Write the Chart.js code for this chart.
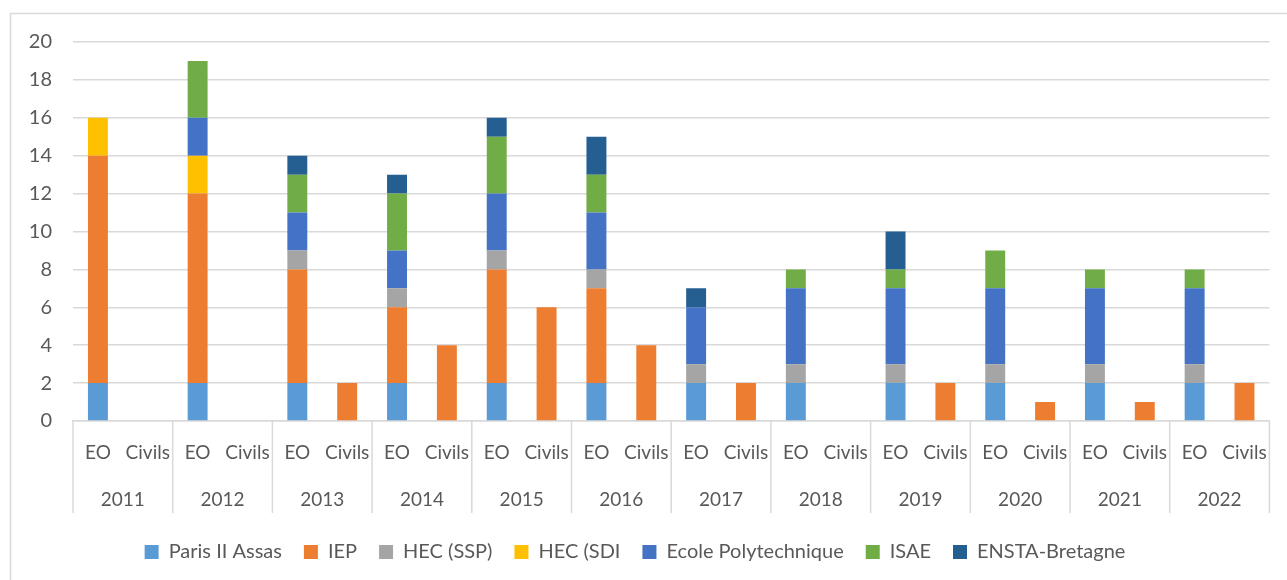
<!DOCTYPE html>
<html>
<head>
<meta charset="utf-8">
<script src="https://cdn.jsdelivr.net/npm/chart.js@4.4.1/dist/chart.umd.min.js"></script>
<style>
  html,body{margin:0;padding:0;background:#fff;}
  #wrap{position:relative;width:1287px;height:580px;}
</style>
</head>
<body>
<div id="wrap"><canvas id="c" width="1287" height="580"></canvas></div>
<script>
// données (EO / Civils par année)
const years=['2011','2012','2013','2014','2015','2016','2017','2018','2019','2020','2021','2022'];
const groups=['EO','Civils'];
const paris =[2,0, 2,0, 2,0, 2,0, 2,0, 2,0, 2,0, 2,0, 2,0, 2,0, 2,0, 2,0];
const iep   =[12,0, 10,0, 6,2, 4,4, 6,6, 5,4, 0,2, 0,0, 0,2, 0,1, 0,1, 0,2];
const hecSsp=[0,0, 0,0, 1,0, 1,0, 1,0, 1,0, 1,0, 1,0, 1,0, 1,0, 1,0, 1,0];
const hecSdi=[2,0, 2,0, 0,0, 0,0, 0,0, 0,0, 0,0, 0,0, 0,0, 0,0, 0,0, 0,0];
const poly  =[0,0, 2,0, 2,0, 2,0, 3,0, 3,0, 3,0, 4,0, 4,0, 4,0, 4,0, 4,0];
const isae  =[0,0, 3,0, 2,0, 3,0, 3,0, 2,0, 0,0, 1,0, 1,0, 2,0, 1,0, 1,0];
const ensta =[0,0, 0,0, 1,0, 1,0, 1,0, 2,0, 1,0, 0,0, 2,0, 0,0, 0,0, 0,0];
const yTicks=[0,2,4,6,8,10,12,14,16,18,20];

const labels=[];
years.forEach(()=>groups.forEach(g=>labels.push(g)));

const TXT='#595959', GRID='#d9d9d9', FONT='Lato, "Liberation Sans", sans-serif';

// séparateurs verticaux entre années + cadre du graphique
const deco={
  id:'deco',
  beforeDraw(ch){
    const c=ch.ctx;
    c.save(); c.strokeStyle=GRID; c.lineWidth=1.5;
    c.strokeRect(10.5,13.5,1300,600);
    c.restore();
  },
  afterDraw(ch){
    const c=ch.ctx, x=ch.scales.x, x2=ch.scales.x2;
    c.save(); c.strokeStyle=GRID; c.lineWidth=1.5;
    for(let i=0;i<=years.length;i++){
      let px;
      if(i===0) px=x.left;
      else if(i===years.length) px=x.right;
      else px=(x.getPixelForValue(2*i-1)+x.getPixelForValue(2*i))/2;
      c.beginPath(); c.moveTo(px,x.top); c.lineTo(px,x2.top+30); c.stroke();
    }
    c.restore();
  }
};

const mk=(label,data,color)=>({label,data,backgroundColor:color,borderWidth:0,
  barPercentage:0.4,categoryPercentage:1});

new Chart(document.getElementById('c'),{
  type:'bar',
  data:{labels,datasets:[
    mk('Paris II Assas',paris,'#5B9BD5'),
    mk('IEP',iep,'#ED7D31'),
    mk('HEC (SSP)',hecSsp,'#A5A5A5'),
    mk('HEC (SDI',hecSdi,'#FFC000'),
    mk('Ecole Polytechnique',poly,'#4472C4'),
    mk('ISAE',isae,'#70AD47'),
    mk('ENSTA-Bretagne',ensta,'#255E91'),
  ]},
  options:{
    responsive:false,animation:false,
    layout:{padding:{top:42,right:17,left:0,bottom:8}},
    plugins:{
      tooltip:{enabled:false},
      legend:{position:'bottom',
        labels:{boxWidth:14,boxHeight:14,padding:22,color:TXT,font:{family:FONT,size:20}}}
    },
    scales:{
      x:{stacked:true,weight:0,
        grid:{display:false,drawTicks:false},
        border:{color:GRID,width:1.5},
        ticks:{color:TXT,font:{family:FONT,size:19},padding:20,maxRotation:0,autoSkip:false},
        afterFit:s=>{s.height=62;}},
      x2:{type:'category',labels:years,position:'bottom',weight:1,offset:true,
        grid:{display:false,drawTicks:false},border:{display:false},
        ticks:{color:TXT,font:{family:FONT,size:19},padding:5,maxRotation:0,autoSkip:false},
        afterFit:s=>{s.height=37;}},
      y:{stacked:true,min:0,max:20,
        afterBuildTicks:s=>{s.ticks=yTicks.map(v=>({value:v}));},
        grid:{color:GRID,lineWidth:1.5,drawTicks:false},
        border:{display:false},
        ticks:{color:TXT,font:{family:FONT,size:20},padding:21},
        afterFit:s=>{s.width=73;}}
    }
  },
  plugins:[deco]
});
</script>
</body>
</html>
